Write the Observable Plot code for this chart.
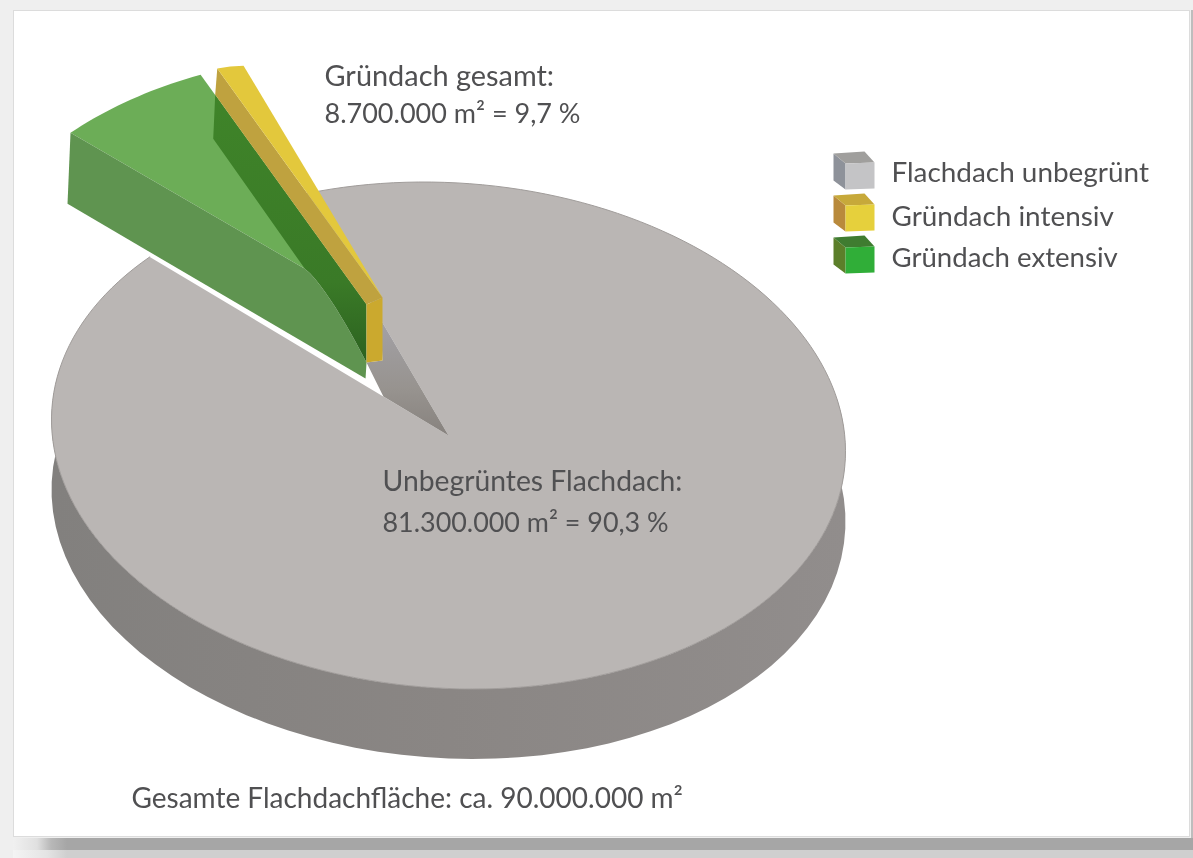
<!DOCTYPE html>
<html lang="de">
<head>
<meta charset="utf-8">
<title>Flachdachflächen</title>
<script src="https://cdn.jsdelivr.net/npm/d3@7"></script>
<script src="https://cdn.jsdelivr.net/npm/@observablehq/plot@0.6"></script>
<style>
html,body{margin:0;padding:0;background:#efefef;width:1193px;height:858px;overflow:hidden}
#panel{position:absolute;left:13px;top:10px;width:1177px;height:827px;background:#fff;box-shadow:inset 0 0 0 1px #dcdcdc}
#edgeR{position:absolute;left:1191px;top:10px;width:2px;height:848px;background:#bdbdbd}
#band1{position:absolute;left:13px;top:838px;width:1180px;height:12px;background:linear-gradient(90deg,#f0f0f0 0,#e0e0e0 24px,#b8b8b8 38px,#a6a6a6 54px)}
#band2{position:absolute;left:13px;top:850px;width:1180px;height:8px;background:linear-gradient(90deg,#f4f4f4 0,#e4e4e4 34px,#cfcfcf 54px)}
#chart{position:absolute;left:0;top:0;filter:blur(0.45px)}
</style>
</head>
<body>
<div id="panel"></div><div id="edgeR"></div><div id="band1"></div><div id="band2"></div>
<div id="chart"></div>
<script>
// ---- data ----
const categories = ["Flachdach unbegrünt", "Gründach intensiv", "Gründach extensiv"];
const shares = [90.3, 1.5, 8.2];          // percent of total area
const noteTop = ["Gründach gesamt:", "8.700.000 m² = 9,7 %"];
const noteCenter = ["Unbegrüntes Flachdach:", "81.300.000 m² = 90,3 %"];
const noteTotal = "Gesamte Flachdachfläche: ca. 90.000.000 m²";

// ---- pie model ----
const rad = d => d * Math.PI / 180;
const RX = 397, RY = 253, DEPTH = 70, SHEAR = 0.04;
const centre = [448, 435];
const extApex = [366, 304], intApex = [382, 297];
// the wedge's cumulative share → drawn angle on the ellipse
const angle = d3.scaleLinear().domain([0, shares[2], shares[2] + shares[1]]).range([222.3, 245.3, 249.1]);
const gapEnd = angle(shares[2] + shares[1]);
const grayStart = 221.2;

const onPie = (t, r = 1, z = 0) => [
  centre[0] + r * RX * Math.cos(rad(t)),
  centre[1] + r * RY * Math.sin(rad(t)) + r * SHEAR * RX * Math.cos(rad(t)) + z
];
const onWedge = (apex, t, r = 1, z = 0, dx = 0) => [
  apex[0] + r * RX * Math.cos(rad(t)) + dx,
  apex[1] + r * RY * Math.sin(rad(t)) + z
];
const arc = (f, a, b, n = 60) => d3.range(n + 1).map(i => f(a + (b - a) * i / n));

const a0 = angle(0), a1 = angle(shares[2]), a2 = angle(shares[2] + shares[1]);
const G = (t, r, z, dx) => onWedge(extApex, t, r, z, dx);
const Y = (t, r, z, dx) => onWedge(intApex, t, r, z, dx);

// inner edge where the extensive wedge's front wall meets its dark wall
const innerR = 0.21, innerZ = 58;
const innerCurve = d3.range(0, 13).map(i => {
  const r = innerR * i / 12;
  return G(a0, r, innerZ * Math.pow(1 - r / innerR, 1.45));
});

const grayShapes = [
  ["Wand", [...arc(t => onPie(t), -12, 192), ...arc(t => onPie(t, 1, DEPTH), 192, -12)]],
  ["Dach", [centre, ...arc(t => onPie(t), gapEnd, 360 + grayStart, 180)]]
];
const frontShapes = [
  ["Innenwand", [centre, onPie(gapEnd, 0.48), Y(a2, 0, 63), G(a1, 0, 58), onPie(grayStart, 0.218)]],
  ["Ext-oben", [G(a0, 0), ...arc(t => G(t, 1 + 0.008 * (a1 - t) / (a1 - a0)), a0, a1, 20)]],
  ["Ext-vorn", [G(a0, 1.008), G(a0, 1.008, 71, -3), G(a0, 0, 74, -1), ...innerCurve]],
  ["Ext-innen", [G(a1, 0.912), G(a1, 0), ...innerCurve, G(a1, 0.912, 44, -2)]],
  ["Int-wand", [Y(a1, 0.996), G(a1, 0.912), G(a1, 0), Y(a1, 0)]],
  ["Int-oben", [Y(a1, 0), Y(a1, 0.996), Y((a1 + a2) / 2, 0.99), Y(a2, 0.981)]],
  ["Int-vorn", [G(a1, 0), Y(a1, 0), Y(a1, 0, 63), G(a1, 0, 58)]]
];

// legend cubes
const cube = (name, x, y) => [
  [name + "-seite", [[x, y], [x + 12, y + 10], [x + 12, y + 36], [x, y + 27]]],
  [name + "-oben", [[x, y], [x + 31, y - 2], [x + 41, y + 9], [x + 12, y + 10]]],
  [name + "-front", [[x + 12, y + 10], [x + 41, y + 9], [x + 41, y + 35], [x + 12, y + 36]]]
];
frontShapes.push(...cube("grau", 833, 153), ...cube("gelb", 833, 195), ...cube("gruen", 833, 237));

const colors = new Map([
  ["Wand", "url(#wall)"], ["Dach", "#bab6b4"], ["Innenwand", "url(#inner)"],
  ["Ext-oben", "#6cad57"], ["Ext-vorn", "#5f9450"], ["Ext-innen", "url(#dark)"],
  ["Int-wand", "#bfa23f"], ["Int-oben", "#e3c83c"], ["Int-vorn", "#cba92e"],
  ["grau-seite", "#8e929a"], ["grau-oben", "#a09f9d"], ["grau-front", "#c4c4c6"],
  ["gelb-seite", "#b98a3c"], ["gelb-oben", "#c7a93a"], ["gelb-front", "#e6d03c"],
  ["gruen-seite", "#5c7f2a"], ["gruen-oben", "#3f7c30"], ["gruen-front", "#30ae38"]
]);

const rows = list => list.flatMap(([part, pts]) => pts.map(([x, y]) => ({part, x, y})));

const defs = () => {
  const d = d3.create("svg:defs");
  const grad = (id, x2, y2, stops) => {
    const g = d.append("linearGradient").attr("id", id).attr("x1", 0).attr("y1", 0).attr("x2", x2).attr("y2", y2);
    stops.forEach(([o, c]) => g.append("stop").attr("offset", o).attr("stop-color", c));
  };
  grad("wall", 1, 0, [[0, "#82807e"], [0.5, "#8a8684"], [1, "#918d8c"]]);
  grad("inner", 0, 1, [[0, "#a3a1a6"], [0.6, "#97938f"], [1, "#87827e"]]);
  grad("dark", 0, 1, [[0, "#3f8429"], [0.7, "#3a7a27"], [1, "#2c6220"]]);
  return d.node();
};

const texts = [
  {t: noteTop[0], x: 324, y: 85, s: 28.9},
  {t: noteTop[1], x: 324, y: 122, s: 27},
  {t: noteCenter[0], x: 382, y: 490, s: 28.3},
  {t: noteCenter[1], x: 382, y: 531, s: 26.9},
  {t: categories[0], x: 891, y: 181, s: 27.9},
  {t: categories[1], x: 891, y: 225, s: 27.9},
  {t: categories[2], x: 891, y: 266, s: 27.6},
  {t: noteTotal, x: 131, y: 807, s: 28}
];

const plot = Plot.plot({
  width: 1193, height: 858,
  marginTop: 0, marginRight: 0, marginBottom: 0, marginLeft: 0,
  style: {background: "transparent"},
  x: {domain: [0, 1193], range: [0, 1193], axis: null},
  y: {domain: [0, 858], range: [0, 858], axis: null},
  color: {domain: [...colors.keys()], range: [...colors.values()]},
  marks: [
    defs,
    Plot.line(rows(grayShapes), {x: "x", y: "y", z: "part", fill: "part", stroke: null, curve: "linear"}),
    Plot.line(arc(t => onPie(t), gapEnd, 360 + grayStart, 180), {x: d => d[0], y: d => d[1], stroke: "#a09c9a", strokeWidth: 1, curve: "linear"}),
    Plot.line(rows(frontShapes), {x: "x", y: "y", z: "part", fill: "part", stroke: null, curve: "linear"}),
    Plot.text(texts, {x: "x", y: "y", text: "t", fontSize: "s", textAnchor: "start", lineAnchor: "bottom", fill: "#505052", fontFamily: "Lato"})
  ]
});
document.getElementById("chart").append(plot);
</script>
</body>
</html>
